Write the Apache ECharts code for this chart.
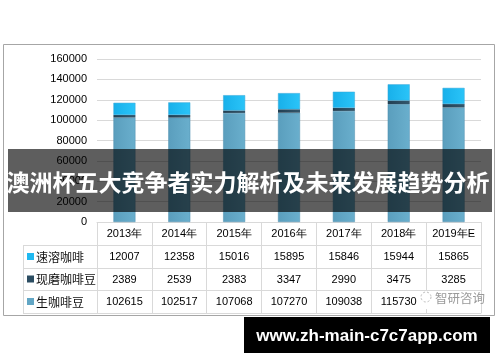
<!DOCTYPE html>
<html><head><meta charset="utf-8">
<script src="https://cdn.jsdelivr.net/npm/echarts@6/dist/echarts.min.js"></script>
<style>html,body{margin:0;padding:0;background:#fff}#c{width:500px;height:362px}</style>
</head><body><div id="c"></div>
<script>
const categories = ['2013年','2014年','2015年','2016年','2017年','2018年','2019年E'];
const instantCoffee = [12007,12358,15016,15895,15846,15944,15865];
const groundBeans = [2389,2539,2383,3347,2990,3475,3285];
const greenBeans = [102615,102517,107068,107270,109038,115730,112500];
const greenBeansLabels = ['102615','102517','107068','107270','109038','115730',''];
const seriesNames = ['速溶咖啡','现磨咖啡豆','生咖啡豆'];
const titleText = '澳洲杯五大竞争者实力解析及未来发展趋势分析';
const urlText = 'www.zh-main-c7c7app.com';
const watermarkText = '智研咨询';

const colGreen = '#62a6c5', colGround = '#2b4d62', colInstant = '#1fb9f1';
const lineCol = '#d9d9d9';
const font = '"Liberation Sans",sans-serif';

const chart = echarts.init(document.getElementById('c'));
const lg = (a,b)=>new echarts.graphic.LinearGradient(0,0,1,0,[{offset:0,color:a},{offset:1,color:b}]);

function rowAxis(data, offset, showLabel){
  return {type:'category', data:data, position:'bottom', offset:offset, gridIndex:0,
    axisLine:{show:true,lineStyle:{color:lineCol,width:1}},
    axisTick:{show:false}, splitLine:{show:false},
    axisLabel:{show:showLabel, interval:0, margin:6, color:'#000', fontSize:11, fontFamily:font}};
}
const rowY=[245,268,290,313];
const labelGraphics=[];
rowY.forEach(y=>labelGraphics.push({type:'line',shape:{x1:23,y1:y+0.5,x2:97,y2:y+0.5},style:{stroke:lineCol,lineWidth:1}}));
labelGraphics.push({type:'line',shape:{x1:23.5,y1:245,x2:23.5,y2:313},style:{stroke:lineCol,lineWidth:1}});
const markerCols=[colInstant,colGround,colGreen];
seriesNames.forEach((n,i)=>{
  const cy=(rowY[i]+rowY[i+1])/2+0.5;
  labelGraphics.push({type:'rect',shape:{x:27,y:cy-4,width:7,height:7},style:{fill:markerCols[i]}});
  labelGraphics.push({type:'text',x:36,y:cy,style:{text:n,fontSize:12,fontFamily:'"Noto Sans CJK SC",sans-serif',fill:'#111',verticalAlign:'middle'}});
});

chart.setOption({
  animation:false,
  grid:{left:97,right:19,top:59,bottom:140},
  xAxis:[
    {type:'category',data:categories,position:'bottom',
      axisLine:{show:true,lineStyle:{color:lineCol}},
      axisTick:{show:true,length:91,lineStyle:{color:lineCol}},
      axisLabel:{interval:0,margin:6,color:'#000',fontSize:11,fontFamily:font}},
    rowAxis(instantCoffee.map(String),23,true),
    rowAxis(groundBeans.map(String),46,true),
    rowAxis(greenBeansLabels,68,true),
    rowAxis(categories,91,false)
  ],
  yAxis:{type:'value',min:0,max:160000,interval:20000,
    axisLine:{show:false},axisTick:{show:false},
    axisLabel:{margin:10,color:'#000',fontSize:11,fontFamily:font,formatter:v=>String(v)},
    splitLine:{lineStyle:{color:lineCol,width:1}}},
  series:[
    {name:seriesNames[2],type:'bar',stack:'a',barWidth:22,data:greenBeans,
      itemStyle:{color:lg('#5a9ebd','#6aafcd'),borderColor:'#4f8fae',borderWidth:0.5}},
    {name:seriesNames[1],type:'bar',stack:'a',barWidth:22,data:groundBeans,
      itemStyle:{color:lg('#223f52','#34576c')}},
    {name:seriesNames[0],type:'bar',stack:'a',barWidth:22,data:instantCoffee,
      itemStyle:{color:lg('#18b0ea','#2ac4f8'),borderColor:'#3aa6d6',borderWidth:0.5}}
  ],
  graphic:[
    {type:'rect',shape:{x:3.5,y:44.5,width:491,height:271},style:{fill:'none',stroke:'#a6a6a6',lineWidth:1},z:1},
    ...labelGraphics,
    {type:'rect',shape:{x:419,y:291,width:62,height:18},style:{fill:'#fff'},z:49},
    {type:'text',x:435,y:298,style:{text:watermarkText,fontSize:12.5,fontFamily:'"Noto Sans CJK SC",sans-serif',fill:'#9a9a9a',verticalAlign:'middle'},z:50},
    {type:'circle',shape:{cx:426,cy:297,r:5},style:{fill:'none',stroke:'#bbb',lineWidth:1,lineDash:[2,2]},z:50},
    {type:'rect',shape:{x:8,y:149,width:484,height:63},style:{fill:'rgba(0,0,0,0.63)'},z:100},
    {type:'text',x:248,y:182,style:{text:titleText,fontSize:23,fontWeight:'bold',fontFamily:'"Noto Sans CJK SC",sans-serif',fill:'#fff',align:'center',verticalAlign:'middle'},z:101},
    {type:'rect',shape:{x:244,y:317,width:246,height:36},style:{fill:'#000'},z:100},
    {type:'text',x:367,y:336,style:{text:urlText,fontSize:17,fontWeight:'bold',fontFamily:'"Liberation Sans",sans-serif',fill:'#fff',align:'center',verticalAlign:'middle'},z:101}
  ]
});
</script></body></html>
